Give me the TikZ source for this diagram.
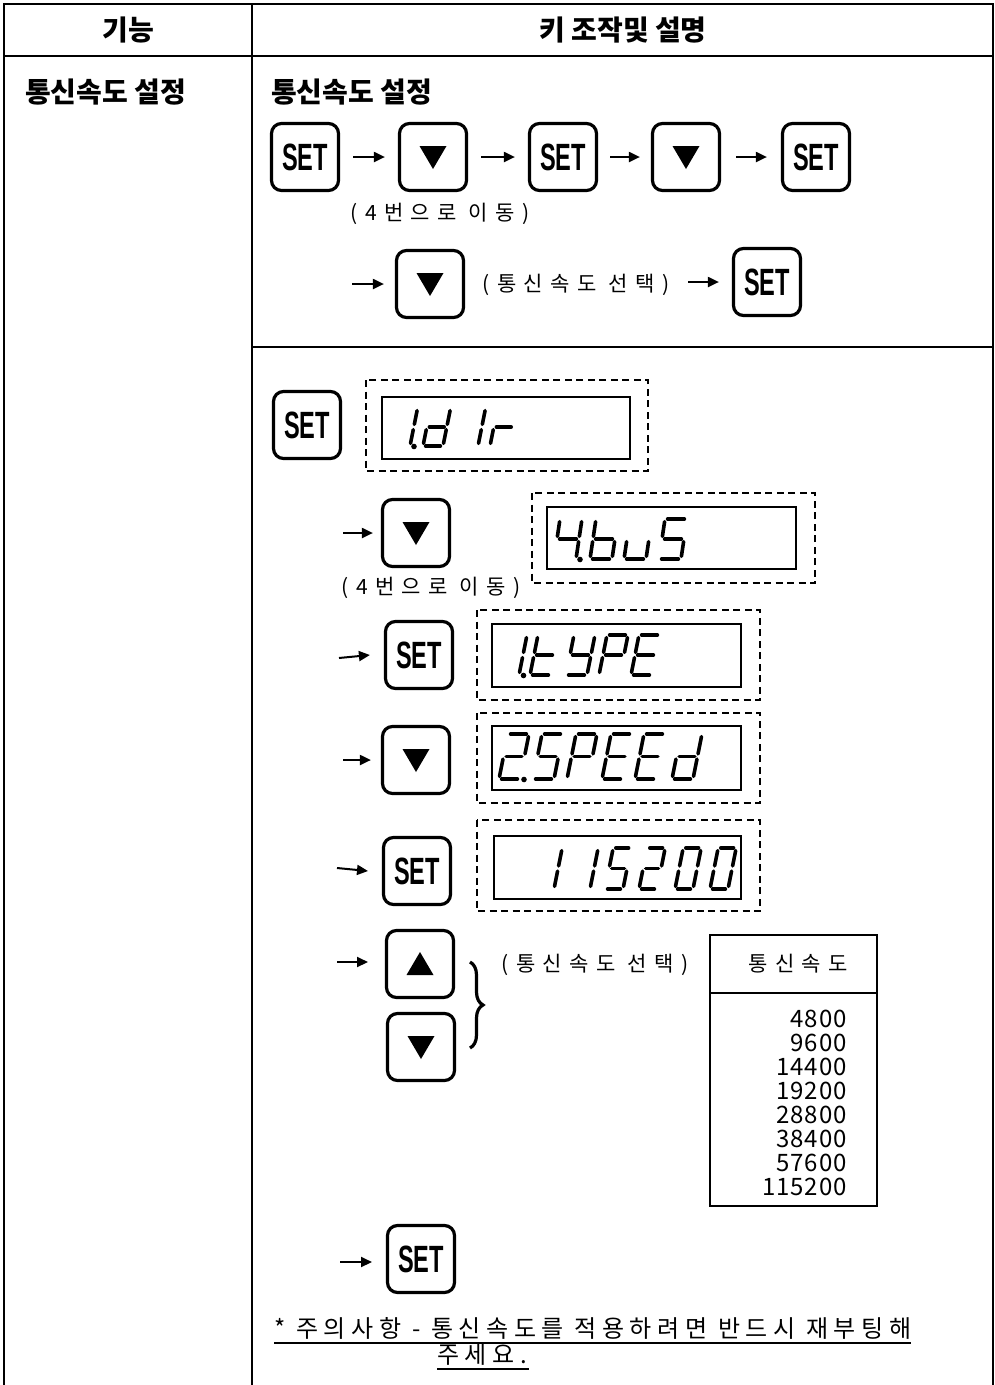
\documentclass[tikz,border=0pt]{standalone}
\usepackage{fontspec}
\setmainfont{Noto Sans CJK KR}
\newfontfamily\kr{Noto Sans CJK KR}
\newfontfamily\krs[LetterSpace=35]{Noto Sans CJK KR}
\newfontfamily\krn[LetterSpace=4]{Noto Sans CJK KR}
\newfontfamily\krf[LetterSpace=23]{Noto Sans CJK KR}
\newfontfamily\setf{Liberation Sans}
\usetikzlibrary{arrows.meta,calc,decorations.pathreplacing}
\newcommand\SETT{\scalebox{0.62}[1]{SET}}
% seven segment
\def\sW{20}\def\sH{38}\def\sS{0.2}\def\sG{2.6}\def\sD{5}
\newcommand\sgl[4]{\draw[seg] ({#1+\sS*(#2)},{-(#2)}) -- ({#3+\sS*(#4)},{-(#4)});}
\newcommand\segxa{\sgl{\sG}{\sH}{\sW-\sG}{\sH}}
\newcommand\segxb{\sgl{\sW}{\sH-\sG}{\sW}{\sH/2+\sG}}
\newcommand\segxc{\sgl{\sW}{\sH/2-\sG}{\sW}{\sG}}
\newcommand\segxd{\sgl{\sG}{0}{\sW-\sG}{0}}
\newcommand\segxe{\sgl{0}{\sG}{0}{\sH/2-\sG}}
\newcommand\segxf{\sgl{0}{\sH/2+\sG}{0}{\sH-\sG}}
\newcommand\segxg{\sgl{\sG}{\sH/2}{\sW-\sG}{\sH/2}}
\newcommand\chr[3]{\begin{scope}[shift={(#1,#2)}]\foreach \q in {#3}{\csname segx\q\endcsname}\end{scope}}
\newcommand\sdot[2]{\fill[black] ({#1+\sW+\sD},{#2+0.5}) circle[radius=2.8pt];}
\newcommand\dtri[1]{\fill ($(#1)+(-13.5,-11)$) -- ($(#1)+(13.5,-11)$) -- ($(#1)+(0,12)$) -- cycle;}
\newcommand\utri[1]{\fill ($(#1)+(-13.5,11)$) -- ($(#1)+(13.5,11)$) -- ($(#1)+(0,-12)$) -- cycle;}
\begin{document}
\begin{tikzpicture}[x=1pt,y=-1pt,
  tline/.style={line width=1.6pt},
  key/.style={draw, line width=3.2pt, rounded corners=10pt, minimum width=67pt, minimum height=67pt, inner sep=0pt},
  keyset/.style={key, font=\setf\bfseries\fontsize{38}{38}\selectfont},
  arr/.style={line width=2pt, -{Triangle[length=11pt,width=10pt]}},
  dbox/.style={line width=1.8pt, dash pattern=on 7pt off 4.5pt},
  disp/.style={line width=1.8pt},
  seg/.style={line width=3.6pt, line cap=round},
  hb/.style={font=\kr\bfseries\fontsize{28}{32}\selectfont, inner sep=0pt},
  lbl/.style={font=\krs\fontsize{21}{24}\selectfont, inner sep=0pt},
  num/.style={font=\krn\fontsize{24}{24}\selectfont, inner sep=0pt},
  fn/.style={font=\krf\fontsize{24}{28}\selectfont, inner sep=0pt},
  brc/.style={line width=3.2pt, decorate, decoration={brace, amplitude=13pt}}
]
\useasboundingbox (0,0) rectangle (994,1385);
% table frame
\draw[tline] (4,1385) -- (4,4) -- (993,4) -- (993,1385);
\draw[tline] (4,56) -- (993,56);
\draw[tline] (252,4) -- (252,1385);
\draw[tline] (252,347) -- (993,347);
% headers
\node[hb] (h1) at (128,30) {기능};
\node[hb] (h2) at (623,30) {키 조작및 설명};
\node[hb, anchor=west] (f1) at (25,92) {통신속도 설정};
\node[hb, anchor=west] (f2) at (271,92) {통신속도 설정};
% top sequence
\node[keyset] (k1) at (305,157) {\SETT};
\node[key] (k2) at (433,157) {};
\node[keyset] (k3) at (563,157) {\SETT};
\node[key] (k4) at (686,157) {};
\node[keyset] (k5) at (816,157) {\SETT};
\dtri{k2}\dtri{k4}
\draw[arr, shorten <=13pt, shorten >=13pt] (k1) -- (k2);
\draw[arr, shorten <=13pt, shorten >=13pt] (k2) -- (k3);
\draw[arr, shorten <=12pt, shorten >=11pt] (k3) -- (k4);
\draw[arr, shorten <=15pt, shorten >=14pt] (k4) -- (k5);
\node[lbl] (l1) at (440,214) {(4번으로 이동)};
\coordinate (a6) at (352,284);
\node[key] (k6) at (430,284) {};
\dtri{k6}
\draw[arr, shorten >=11pt] (a6) -- (k6);
\node[lbl] (l2) at (576,285) {(통신속도 선택)};
\node[keyset] (k7) at (767,282) {\SETT};
\coordinate (a7) at (688,282);
\draw[arr, shorten >=13pt] (a7) -- (k7);
% lower section
\node[keyset] (k8) at (307,425) {\SETT};
\draw[dbox] (366,380) rectangle (648,471);
\draw[disp] (382,397) rectangle (630,459);
\def\sW{20}\def\sH{38}\def\sS{0.2}\def\sD{4}
\chr{390}{446}{b,c}\sdot{390}{446}\chr{423}{446}{b,c,d,e,g}\chr{458}{446}{b,c}\chr{490}{446}{e,g}
% 2
\coordinate (a9) at (343,533);
\node[key] (k9) at (416,533) {};
\dtri{k9}
\draw[arr, shorten >=8pt] (a9) -- (k9);
\draw[dbox] (532,493) rectangle (815,583);
\draw[disp] (547,507) rectangle (796,569);
\def\sW{22}\def\sH{40}\def\sS{0.15}\def\sD{4}
\chr{554}{559}{b,c,f,g}\sdot{554}{559}\chr{590}{559}{c,d,e,f,g}\chr{624}{559}{c,d,e}\chr{659}{559}{a,f,g,c,d}
\node[lbl] (l3) at (431,588) {(4번으로 이동)};
% 3
\coordinate (a10) at (339,658);
\node[keyset] (k10) at (419,655) {\SETT};
\draw[arr] (a10) -- ($(k10.west)+(-14,0)$);
\draw[dbox] (477,610) rectangle (760,700);
\draw[disp] (492,624) rectangle (741,687);
\def\sW{21}\def\sH{40}\def\sS{0.2}\def\sD{4.5}
\chr{498}{675}{b,c}\sdot{498}{675}\chr{530}{675}{d,e,f,g}\chr{566}{675}{b,c,d,f,g}\chr{599}{675}{a,b,e,f,g}\chr{631}{675}{a,d,e,f,g}
% 4
\coordinate (a11) at (343,760);
\node[key] (k11) at (416,760) {};
\dtri{k11}
\draw[arr] (a11) -- ($(k11.west)+(-10,0)$);
\draw[dbox] (477,713) rectangle (760,803);
\draw[disp] (492,726) rectangle (741,790);
\def\sW{21}\def\sH{45}\def\sS{0.2}\def\sD{4}
\chr{499}{779}{a,b,g,e,d}\sdot{499}{779}\chr{533}{779}{a,f,g,c,d}\chr{567}{779}{a,b,e,f,g}\chr{602}{779}{a,d,e,f,g}\chr{635}{779}{a,d,e,f,g}\chr{672}{779}{b,c,d,e,g}
% 5
\coordinate (a12) at (337,868);
\node[keyset] (k12) at (417,871) {\SETT};
\draw[arr] (a12) -- ($(k12.west -| a12)+(31,0)$);
\draw[dbox] (477,820) rectangle (760,911);
\draw[disp] (494,836) rectangle (741,899);
\def\sW{18}\def\sH{41}\def\sS{0.2}
\chr{536}{889}{b,c}\chr{572}{889}{b,c}\chr{605}{889}{a,f,g,c,d}\chr{639}{889}{a,b,g,e,d}\chr{675}{889}{a,b,c,d,e,f}\chr{710}{889}{a,b,c,d,e,f}
% 6
\coordinate (a13) at (337,962);
\node[key] (k13) at (420,964) {};
\utri{k13}
\node[key] (k14) at (421,1047) {};
\dtri{k14}
\draw[arr] (a13) -- ($(a13)+(31,0)$);
\draw[brc] (470,962) -- (470,1048);
\node[lbl] (l4) at (595,965) {(통신속도 선택)};
% speed table
\draw[tline] (710,935) rectangle (877,1206);
\draw[tline] (710,993) -- (877,993);
\node[font=\krs\fontsize{21}{24}\selectfont, inner sep=0pt] (th) at (798,964) {통신속도};
\foreach \v [count=\i] in {4800,9600,14400,19200,28800,38400,57600,115200}
  \node[num, anchor=base east] (n\i) at (847,1003+24*\i) {\v};
% 7
\coordinate (a15) at (340,1262);
\node[keyset] (k15) at (421,1259) {\SETT};
\draw[arr] (a15) -- ($(a15)+(32,0)$);
% footnote
\node[fn, anchor=base west] (fn1) at (274,1337) {* 주의사항 - 통신속도를 적용하려면 반드시 재부팅해};
\node[fn, anchor=base west] (fn2) at (437,1363) {주세요.};
\draw[line width=1.8pt] ($(fn1.base west)+(0,6)$) -- ($(fn1.base east)+(0,6)$);
\draw[line width=1.8pt] ($(fn2.base west)+(0,6)$) -- ($(fn2.base east)+(2,6)$);
\end{tikzpicture}
\end{document}
